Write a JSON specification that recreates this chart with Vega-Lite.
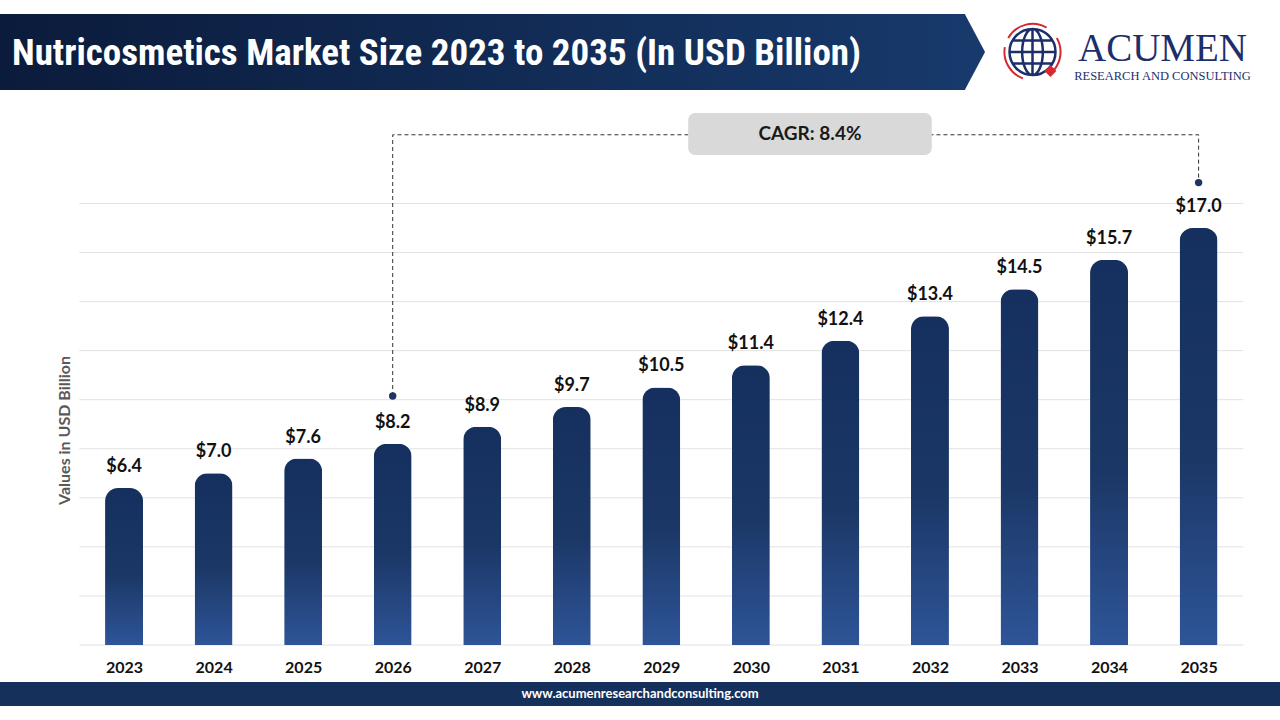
{
  "$schema": "https://vega.github.io/schema/vega-lite/v6.json",
  "background": "white",
  "padding": {"top": 14, "bottom": 14, "left": 0, "right": 0},
  "config": {"view": {"stroke": null}, "font": "Lato"},
  "datasets": {
    "market": [
      {"year": 2023, "value": 6.4},
      {"year": 2024, "value": 7.0},
      {"year": 2025, "value": 7.6},
      {"year": 2026, "value": 8.2},
      {"year": 2027, "value": 8.9},
      {"year": 2028, "value": 9.7},
      {"year": 2029, "value": 10.5},
      {"year": 2030, "value": 11.4},
      {"year": 2031, "value": 12.4},
      {"year": 2032, "value": 13.4},
      {"year": 2033, "value": 14.5},
      {"year": 2034, "value": 15.7},
      {"year": 2035, "value": 17.0}
    ],
    "gridlines": [
      {"value": 0, "year": 2022.5, "year_end": 2035.5},
      {"value": 2, "year": 2022.5, "year_end": 2035.5},
      {"value": 4, "year": 2022.5, "year_end": 2035.5},
      {"value": 6, "year": 2022.5, "year_end": 2035.5},
      {"value": 8, "year": 2022.5, "year_end": 2035.5},
      {"value": 10, "year": 2022.5, "year_end": 2035.5},
      {"value": 12, "year": 2022.5, "year_end": 2035.5},
      {"value": 14, "year": 2022.5, "year_end": 2035.5},
      {"value": 16, "year": 2022.5, "year_end": 2035.5},
      {"value": 18, "year": 2022.5, "year_end": 2035.5}
    ],
    "cagr_path": [
      {"year": 2026, "value": 10.15, "step": 1, "end": true},
      {"year": 2026, "value": 20.8, "step": 2, "end": false},
      {"year": 2035, "value": 20.8, "step": 3, "end": false},
      {"year": 2035, "value": 18.85, "step": 4, "end": true}
    ],
    "cagr_box": [
      {"year": 2029.3, "year_end": 2032.02, "value": 19.98, "value_top": 21.69}
    ],
    "cagr_label": [
      {"year": 2030.66, "value": 20.83, "label": "CAGR: 8.4%"}
    ]
  },
  "spacing": 7,
  "vconcat": [
    {
      "spacing": 0,
      "bounds": "flush",
      "hconcat": [
        {
          "width": 965,
          "height": 76,
          "data": {"values": [{"part": "banner"}]},
          "title": {
            "text": "Nutricosmetics Market Size 2023 to 2035 (In USD Billion)",
            "anchor": "start",
            "frame": "group",
            "orient": "top",
            "offset": -77,
            "baseline": "middle",
            "dx": 12,
            "font": "Liberation Sans Narrow, Arial Narrow, Roboto Condensed, Liberation Sans",
            "fontSize": 37,
            "fontWeight": "bold",
            "color": "white"
          },
          "mark": {
            "type": "rect",
            "color": {
              "gradient": "linear",
              "x1": 0, "y1": 0, "x2": 1, "y2": 0,
              "stops": [
                {"offset": 0, "color": "#0b1b3b"},
                {"offset": 1, "color": "#17396b"}
              ]
            }
          },
          "encoding": {}
        },
        {
          "width": 30,
          "height": 76,
          "data": {"values": [{"part": "arrow"}]},
          "mark": {
            "type": "point",
            "shape": "M -0.4 -1 L 0.132 0 L -0.4 1 Z",
            "size": 5776,
            "filled": true,
            "color": "#17396b",
            "opacity": 1,
            "strokeWidth": 0
          },
          "encoding": {}
        },
        {
          "width": 75,
          "height": 76,
          "data": {"values": [{"part": "globe"}]},
          "layer": [
            {
              "mark": {
                "type": "point",
                "shape": "M -1.057 -0.61 A 1.22 1.22 0 0 1 0.61 -1.057 M 1.057 -0.61 A 1.22 1.22 0 0 1 0.935 0.784 M -0.417 1.146 A 1.22 1.22 0 0 1 -1.201 -0.212",
                "size": 2116,
                "filled": false,
                "color": "#d42a2f",
                "strokeWidth": 2,
                "opacity": 1
              },
              "encoding": {}
            },
            {
              "mark": {
                "type": "point",
                "shape": "M -1 0 A 1 1 0 1 1 1 0 A 1 1 0 1 1 -1 0 Z M 0 -1 A 0.45 1 0 1 1 0 1 A 0.45 1 0 1 1 0 -1 Z M 0 -1 L 0 1 M -1 0 L 1 0 M -0.87 -0.5 L 0.87 -0.5 M -0.87 0.5 L 0.87 0.5",
                "size": 2116,
                "filled": false,
                "color": "#1d2f6b",
                "strokeWidth": 2.5,
                "opacity": 1
              },
              "encoding": {}
            },
            {
              "mark": {
                "type": "point",
                "shape": "M 0.78 0.57 L 1.04 0.83 L 0.78 1.09 L 0.52 0.83 Z",
                "size": 2116,
                "filled": true,
                "color": "#d42a2f",
                "opacity": 1
              },
              "encoding": {}
            }
          ]
        },
        {
          "width": 185,
          "height": 76,
          "layer": [
            {
              "data": {"values": [{"line": "ACUMEN"}]},
              "mark": {
                "type": "text",
                "font": "Liberation Serif",
                "fontSize": 39,
                "baseline": "alphabetic",
                "dy": 9,
                "color": "#1d2f6b"
              },
              "encoding": {"text": {"field": "line"}}
            },
            {
              "data": {"values": [{"line": "RESEARCH AND CONSULTING"}]},
              "mark": {
                "type": "text",
                "font": "Liberation Serif",
                "fontSize": 12.5,
                "baseline": "alphabetic",
                "dy": 28,
                "color": "#1d2f6b"
              },
              "encoding": {"text": {"field": "line"}}
            }
          ]
        }
      ]
    },
    {
      "width": 1280,
      "height": 548,
      "encoding": {
        "x": {
          "field": "year",
          "type": "quantitative",
          "scale": {"domain": [2021.6704, 2035.8532], "nice": false, "zero": false},
          "axis": {
            "values": [2023, 2024, 2025, 2026, 2027, 2028, 2029, 2030, 2031, 2032, 2033, 2034, 2035],
            "format": "d",
            "grid": false,
            "ticks": false,
            "domain": false,
            "labelFont": "Lato",
            "labelFontSize": 16,
            "labelFontWeight": "bold",
            "labelColor": "#111111",
            "labelPadding": 14,
            "labelFlush": false,
            "title": null
          }
        },
        "y": {
          "field": "value",
          "type": "quantitative",
          "scale": {"domain": [0, 22.34], "nice": false, "zero": true},
          "axis": {
            "grid": false,
            "labels": false,
            "ticks": false,
            "domain": false,
            "offset": -75,
            "title": "Values in USD Billion",
            "titleFont": "Lato",
            "titleFontSize": 16,
            "titleFontWeight": "bold",
            "titleColor": "#595959",
            "titlePadding": 3,
            "titleY": 333
          }
        }
      },
      "layer": [
        {
          "data": {"name": "gridlines"},
          "mark": {"type": "rule", "color": "#e2e2e2", "strokeWidth": 1},
          "encoding": {
            "x2": {"field": "year_end"}
          }
        },
        {
          "data": {"name": "market"},
          "mark": {
            "type": "bar",
            "width": 38,
            "opacity": 1,
            "cornerRadiusTopLeft": 13,
            "cornerRadiusTopRight": 13,
            "color": {
              "gradient": "linear",
              "x1": 0, "y1": 0, "x2": 0, "y2": 1,
              "stops": [
                {"offset": 0, "color": "#15305e"},
                {"offset": 0.55, "color": "#1b3766"},
                {"offset": 1, "color": "#2e5598"}
              ]
            }
          }
        },
        {
          "data": {"name": "market"},
          "mark": {
            "type": "text",
            "baseline": "alphabetic",
            "dy": -16,
            "font": "Lato",
            "fontSize": 18,
            "fontWeight": "bold",
            "color": "#111111"
          },
          "encoding": {
            "text": {"field": "value", "type": "quantitative", "format": "$.1f"}
          }
        },
        {
          "data": {"name": "cagr_path"},
          "mark": {"type": "line", "strokeDash": [4, 3], "strokeWidth": 1, "color": "#333333"},
          "encoding": {"order": {"field": "step", "type": "quantitative"}}
        },
        {
          "data": {"name": "cagr_path"},
          "transform": [{"filter": "datum.end"}],
          "mark": {"type": "point", "filled": true, "size": 55, "opacity": 1, "color": "#1f3461"}
        },
        {
          "data": {"name": "cagr_box"},
          "mark": {"type": "rect", "color": "#d9d9d9", "cornerRadius": 7},
          "encoding": {
            "x2": {"field": "year_end"},
            "y2": {"field": "value_top"}
          }
        },
        {
          "data": {"name": "cagr_label"},
          "mark": {
            "type": "text",
            "font": "Lato",
            "fontSize": 19,
            "fontWeight": "bold",
            "color": "#1a1a1a",
            "baseline": "middle"
          },
          "encoding": {"text": {"field": "label"}}
        }
      ]
    },
    {
      "width": 1280,
      "height": 24,
      "data": {"values": [{"site": "www.acumenresearchandconsulting.com"}]},
      "layer": [
        {"mark": {"type": "rect", "color": "#15305b"}, "encoding": {}},
        {
          "mark": {"type": "text", "color": "white", "font": "Lato", "fontSize": 13, "fontWeight": "bold"},
          "encoding": {"text": {"field": "site"}}
        }
      ]
    }
  ]
}
